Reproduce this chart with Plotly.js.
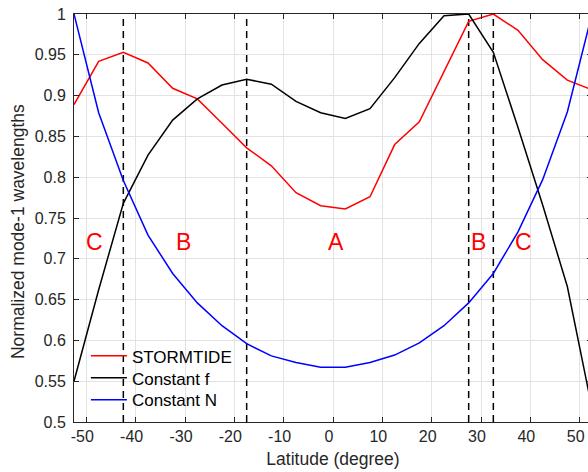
<!DOCTYPE html>
<html>
<head>
<meta charset="utf-8">
<script src="https://cdn.plot.ly/plotly-3.0.1.min.js"></script>
<style>
html, body { margin: 0; padding: 0; overflow: hidden; background: #ffffff; }
#chart { width: 592px; height: 472px; }
</style>
</head>
<body>
<div id="chart"></div>
<script>
// ---- data ----
const latitude = [-52.5, -47.5, -42.5, -37.5, -32.5, -27.5, -22.5, -17.5, -12.5, -7.5, -2.5,
                  2.5, 7.5, 12.5, 17.5, 22.5, 27.5, 32.5, 37.5, 42.5, 47.5, 52.5];
const stormtide = [0.889, 0.942, 0.953, 0.940, 0.909, 0.896, 0.866, 0.836, 0.814, 0.781, 0.765,
                   0.761, 0.776, 0.840, 0.868, 0.930, 0.991, 1.000, 0.980, 0.944, 0.919, 0.907];
const constantF = [0.550, 0.662, 0.768, 0.827, 0.870, 0.896, 0.913, 0.920, 0.914, 0.893, 0.879,
                   0.872, 0.884, 0.922, 0.964, 0.998, 1.000, 0.953, 0.861, 0.766, 0.666, 0.517];
const constantN = [1.000, 0.879, 0.796, 0.729, 0.682, 0.646, 0.618, 0.596, 0.581, 0.573, 0.567,
                   0.567, 0.573, 0.582, 0.597, 0.618, 0.646, 0.682, 0.733, 0.797, 0.880, 1.000];
const seriesNames = ['STORMTIDE', 'Constant f', 'Constant N'];
const boundaryLat = [-42.5, -17.5, 27.5, 32.5];
const regionNames = ['C', 'B', 'A', 'B', 'C'];
const regionLat = [-48.3, -30.4, 0.6, 29.5, 38.6];
const regionLevel = 0.72;
const xTickVals = [-50, -40, -30, -20, -10, 0, 10, 20, 30, 40, 50];
const xTickText = ['-50', '-40', '-30', '-20', '-10', '0', '10', '20', '30', '40', '50'];
const yTickVals = [0.5, 0.55, 0.6, 0.65, 0.7, 0.75, 0.8, 0.85, 0.9, 0.95, 1];
const yTickText = ['0.5', '0.55', '0.6', '0.65', '0.7', '0.75', '0.8', '0.85', '0.9', '0.95', '1'];
const xRange = [-52.5, 52.5];
const yRange = [0.5, 1];

// ---- styles ----
const FONT = 'Liberation Sans, Arial, Helvetica, sans-serif';
const AXC = '#262626';
const GRID = '#e3e3e3';
const seriesColors = ['#ff0000', '#000000', '#0000ff'];
const seriesValues = [stormtide, constantF, constantN];
const legendIds = ['legend', 'legend2', 'legend3'];
const legendTops = [0.2051, 0.1512, 0.0973];

const traces = [];
boundaryLat.forEach(function (b) {
  traces.push({
    x: [b, b], y: yRange, type: 'scatter', mode: 'lines',
    line: { color: '#000000', width: 1.5, dash: '7px,5px' },
    showlegend: false, hoverinfo: 'skip'
  });
});
seriesValues.forEach(function (vals, i) {
  traces.push({
    x: latitude, y: vals, type: 'scatter', mode: 'lines', name: seriesNames[i],
    legend: legendIds[i],
    line: { color: seriesColors[i], width: 1.5 }
  });
});

const annotations = regionNames.map(function (t, i) {
  return {
    x: regionLat[i], y: regionLevel, xref: 'x', yref: 'y', text: t, showarrow: false,
    xanchor: 'center', yanchor: 'middle', font: { family: FONT, size: 23, color: '#ff0000' }
  };
});
annotations.push({
  xref: 'paper', yref: 'paper', x: -0.108, y: 0.5, yshift: -14, textangle: -90,
  xanchor: 'center', yanchor: 'middle', showarrow: false,
  text: 'Normalized mode-1 wavelengths',
  font: { family: FONT, size: 17.5, color: AXC }
});

const axisCommon = {
  showline: true, linecolor: AXC, linewidth: 1, mirror: 'ticks',
  ticks: 'inside', ticklen: 5, tickwidth: 1, tickcolor: AXC,
  showgrid: true, gridcolor: GRID, gridwidth: 1, zeroline: false,
  tickfont: { family: FONT, size: 16, color: AXC }, fixedrange: true
};

const layout = {
  width: 592, height: 472,
  margin: { l: 74, r: 0, t: 14, b: 50, pad: 0 },
  paper_bgcolor: '#ffffff', plot_bgcolor: '#ffffff',
  font: { family: FONT, size: 16, color: AXC },
  xaxis: Object.assign({}, axisCommon, {
    range: xRange, tickmode: 'array', tickvals: xTickVals, ticktext: xTickText,
    ticklabelshift: -4, ticklabelstandoff: 0,
    title: { text: 'Latitude (degree)', font: { family: FONT, size: 17.5, color: AXC }, standoff: 8 }
  }),
  yaxis: Object.assign({}, axisCommon, {
    range: yRange, tickmode: 'array', tickvals: yTickVals, ticktext: yTickText,
    ticklabelstandoff: 4
  }),
  showlegend: true,
  annotations: annotations
};
legendIds.forEach(function (id, i) {
  layout[id] = {
    x: 0.023, y: legendTops[i], xanchor: 'left', yanchor: 'top',
    bgcolor: 'rgba(0,0,0,0)', borderwidth: 0, itemwidth: 36,
    font: { family: FONT, size: 17, color: '#000000' },
    tracegroupgap: 0
  };
});

Plotly.newPlot('chart', traces, layout, { displayModeBar: false, staticPlot: true });
</script>
</body>
</html>
